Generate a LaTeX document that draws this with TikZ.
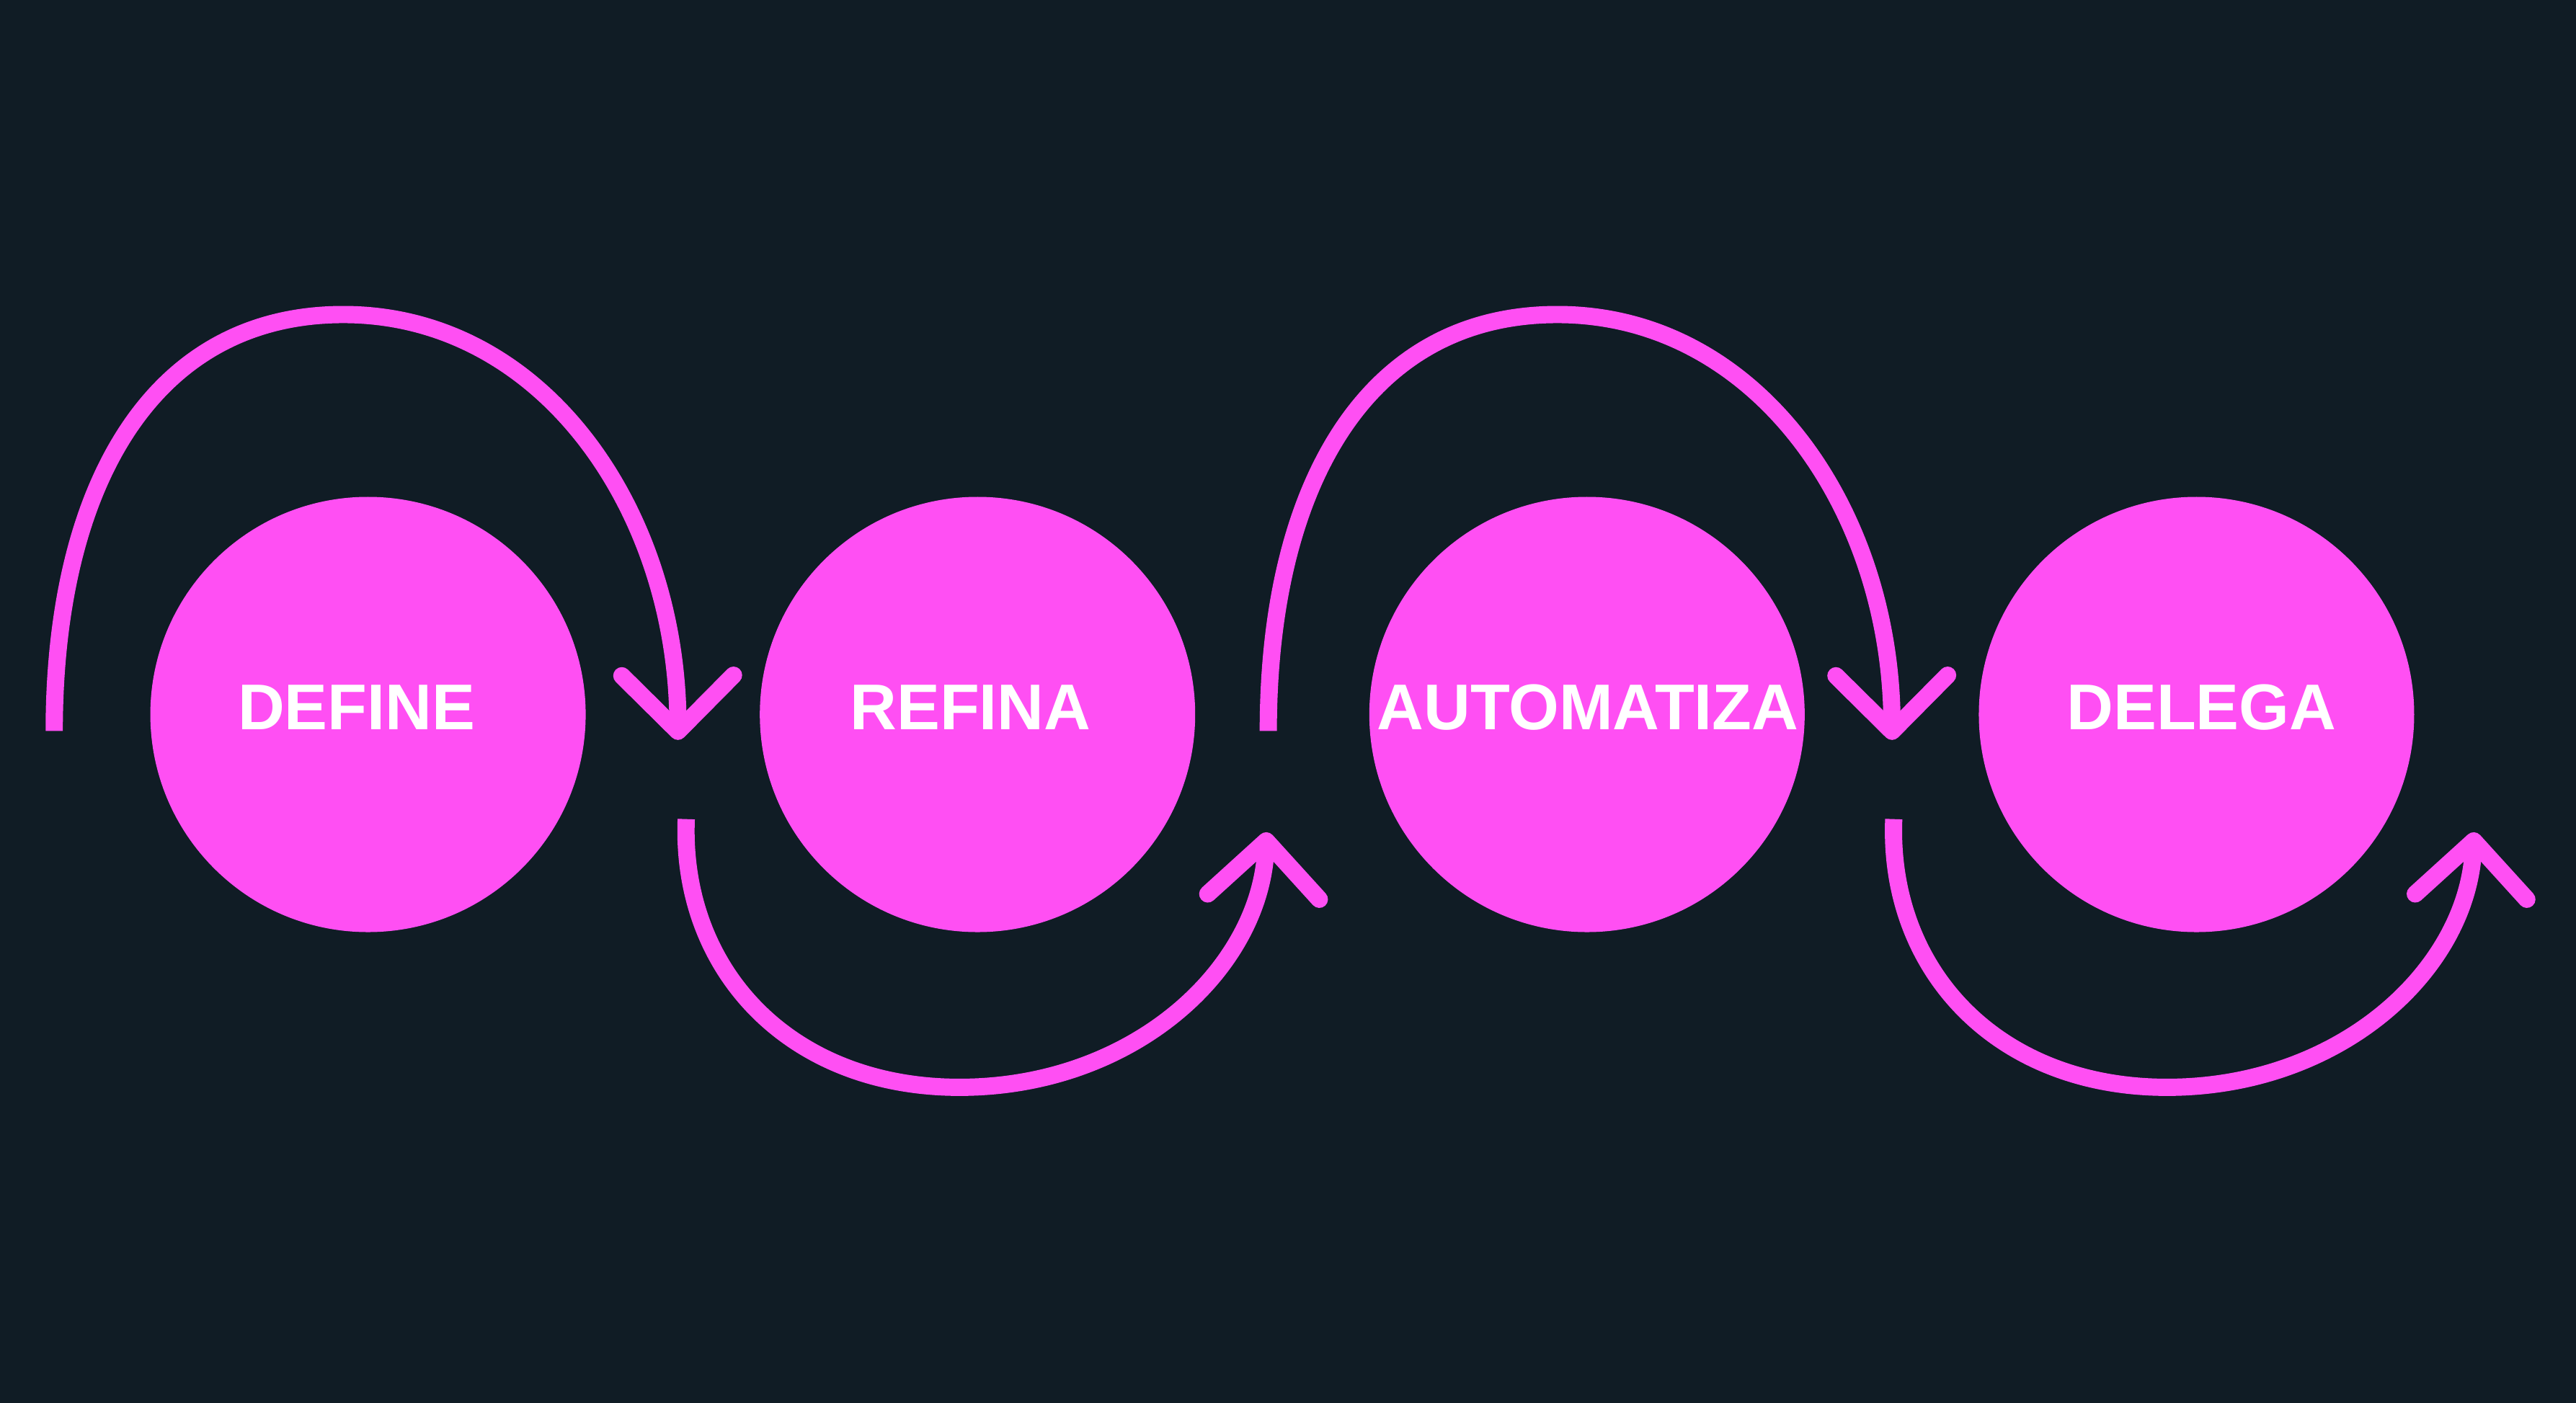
\documentclass[tikz,border=0pt]{standalone}
\usepackage{fontspec}
\setmainfont{Liberation Sans}
\usetikzlibrary{arrows.meta}
\definecolor{night}{HTML}{101C25}
\definecolor{hotpink}{HTML}{FF4FF3}

\begin{document}
\begin{tikzpicture}[x=0.1mm, y=-0.1mm]
\tikzstyle{stepdot} = [circle, fill=hotpink, minimum size=26.5mm, inner sep=0pt]
\tikzstyle{steplabel} = [text=white, inner sep=0pt, font=\fontsize{11.2}{13}\selectfont\bfseries]
\tikzstyle{flow} = [draw=hotpink, line width=1.05mm, -{Straight Barb[length=3.4mm, width=6.8mm, round]}]

\fill[night] (0,0) rectangle (1568,854);
\useasboundingbox (0,0) rectangle (1568,854);

\node[stepdot] (define) at (224,435) {};
\node[stepdot] (refina) at (595,435) {};
\node[stepdot] (automatiza) at (966,435) {};
\node[stepdot] (delega) at (1337,435) {};

\node[steplabel] (define text) at (217,430.7) {DEFINE};
\node[steplabel] (refina text) at (590.7,430.7) {REFINA};
\node[steplabel] (automatiza text) at (966.5,430.7) {AUTOMATIZA};
\node[steplabel] (delega text) at (1340,430.7) {DELEGA};

\coordinate (s1) at (33,445);
\coordinate (e1) at (412.7,450.5);
\coordinate (s2) at (417.7,498.7);
\coordinate (e2) at (771,506.7);
\coordinate (s3) at (772,445);
\coordinate (e3) at (1151.7,450.5);
\coordinate (s4) at (1152.7,498.7);
\coordinate (e4) at (1506,506.7);

\draw[flow] (s1) .. controls (33,300) and (90,191.5) .. (209,191.5)
  .. controls (330,191.5) and (412,310) .. (e1);
\draw[flow] (s2) .. controls (414,590) and (480,662) .. (584,662)
  .. controls (690,662) and (767,590) .. (e2);
\draw[flow] (s3) .. controls (772,300) and (829,191.5) .. (948,191.5)
  .. controls (1069,191.5) and (1151,310) .. (e3);
\draw[flow] (s4) .. controls (1149,590) and (1215,662) .. (1319,662)
  .. controls (1425,662) and (1502,590) .. (e4);
\end{tikzpicture}
\end{document}
